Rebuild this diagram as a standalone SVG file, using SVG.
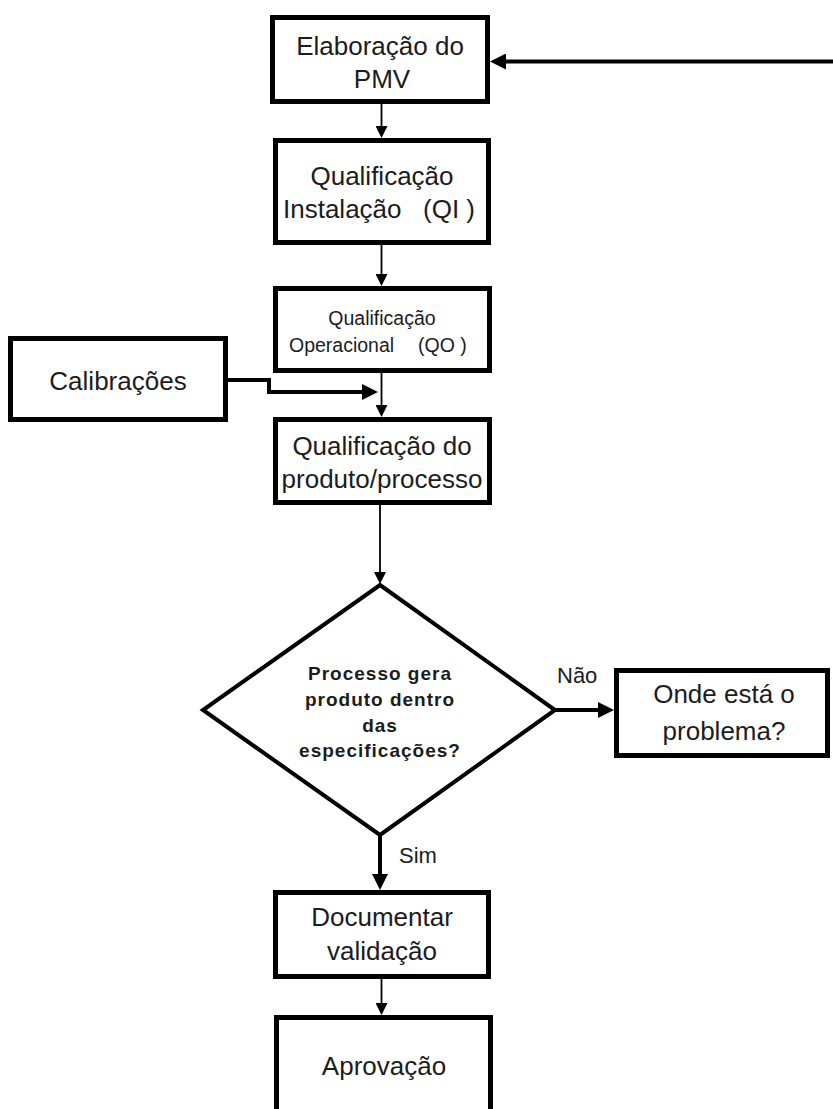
<svg xmlns="http://www.w3.org/2000/svg" width="833" height="1109" viewBox="0 0 833 1109">
<defs>
<style>
.box{fill:#fff;stroke:#000;stroke-width:5}
.dia{fill:#fff;stroke:#000;stroke-width:4;stroke-linejoin:miter}
.t{font-family:"Liberation Sans",Arial,sans-serif;font-size:26px;fill:#1c1c1c;text-anchor:middle}
.ts{font-family:"Liberation Sans",Arial,sans-serif;font-size:19.5px;fill:#1c1c1c;text-anchor:middle}
.tb{font-family:"Liberation Sans",Arial,sans-serif;font-size:19px;font-weight:bold;letter-spacing:1px;fill:#1c1c1c;text-anchor:middle}
.lbl{font-family:"Liberation Sans",Arial,sans-serif;font-size:22px;fill:#1c1c1c}
.thin{fill:none;stroke:#000;stroke-width:1.8;marker-end:url(#ah)}
.thick{fill:none;stroke:#000;stroke-width:4;marker-end:url(#AH)}
</style>
<marker id="ah" markerUnits="userSpaceOnUse" markerWidth="12" markerHeight="12" refX="6" refY="6" orient="auto">
<path d="M0,0 L12,6 L0,12 z" fill="#000"/>
</marker>
<marker id="AH" markerUnits="userSpaceOnUse" markerWidth="16" markerHeight="16" refX="8" refY="8" orient="auto">
<path d="M0,0 L16,8 L0,16 z" fill="#000"/>
</marker>
</defs>
<rect width="833" height="1109" fill="#fff"/>

<g id="connectors">
<line class="thick" x1="833" y1="61.5" x2="498" y2="61.5"/>
<line class="thin" x1="381.5" y1="104" x2="381.5" y2="132"/>
<line class="thin" x1="381.5" y1="245" x2="381.5" y2="280"/>
<line class="thin" x1="381.5" y1="373" x2="381.5" y2="411"/>
<polyline class="thick" points="228,380 269,380 269,392 370,392"/>
<line class="thin" x1="380" y1="505" x2="380" y2="578"/>
<line class="thick" x1="555" y1="710" x2="606" y2="710"/>
<line class="thick" x1="380" y1="835" x2="380" y2="882"/>
<line class="thin" x1="381.5" y1="979" x2="381.5" y2="1009"/>
<text class="lbl" x="557" y="683">Não</text>
<text class="lbl" x="399" y="863">Sim</text>
</g>

<g id="n_pmv">
<rect class="box" x="272.5" y="17.5" width="215" height="84"/>
<text class="t" x="380" y="55">Elaboração do</text>
<text class="t" x="382" y="88">PMV</text>
</g>

<g id="n_qi">
<rect class="box" x="275.5" y="140.5" width="213" height="102"/>
<text class="t" x="382" y="185">Qualificação</text>
<text class="t" x="283" y="218" style="text-anchor:start">Instalação</text>
<text class="t" x="423" y="218" style="text-anchor:start">(QI )</text>
</g>

<g id="n_qo">
<rect class="box" x="275.5" y="288.5" width="214" height="82"/>
<text class="ts" x="382" y="325">Qualificação</text>
<text class="ts" x="289" y="352" style="text-anchor:start">Operacional</text>
<text class="ts" x="418" y="352" style="text-anchor:start">(QO )</text>
</g>

<g id="n_calib">
<rect class="box" x="10.5" y="338.5" width="215" height="81"/>
<text class="t" x="118" y="390">Calibrações</text>
</g>

<g id="n_prod">
<rect class="box" x="275.5" y="419.5" width="214" height="83"/>
<text class="t" x="382" y="455">Qualificação do</text>
<text class="t" x="382" y="488">produto/processo</text>
</g>

<g id="n_decisao">
<polygon class="dia" points="380,585 555,710 380,835 203,710"/>
<text class="tb" x="380" y="680">Processo gera</text>
<text class="tb" x="380" y="706">produto dentro</text>
<text class="tb" x="380" y="732">das</text>
<text class="tb" x="380" y="757">especificações?</text>
</g>

<g id="n_problema">
<rect class="box" x="616.5" y="670.5" width="211" height="85"/>
<text class="t" x="724" y="703">Onde está o</text>
<text class="t" x="724" y="740">problema?</text>
</g>

<g id="n_doc">
<rect class="box" x="275.5" y="892.5" width="213" height="84"/>
<text class="t" x="382" y="926">Documentar</text>
<text class="t" x="382" y="960">validação</text>
</g>

<g id="n_aprov">
<rect class="box" x="276.5" y="1017.5" width="214" height="120"/>
<text class="t" x="384" y="1075">Aprovação</text>
</g>
</svg>
